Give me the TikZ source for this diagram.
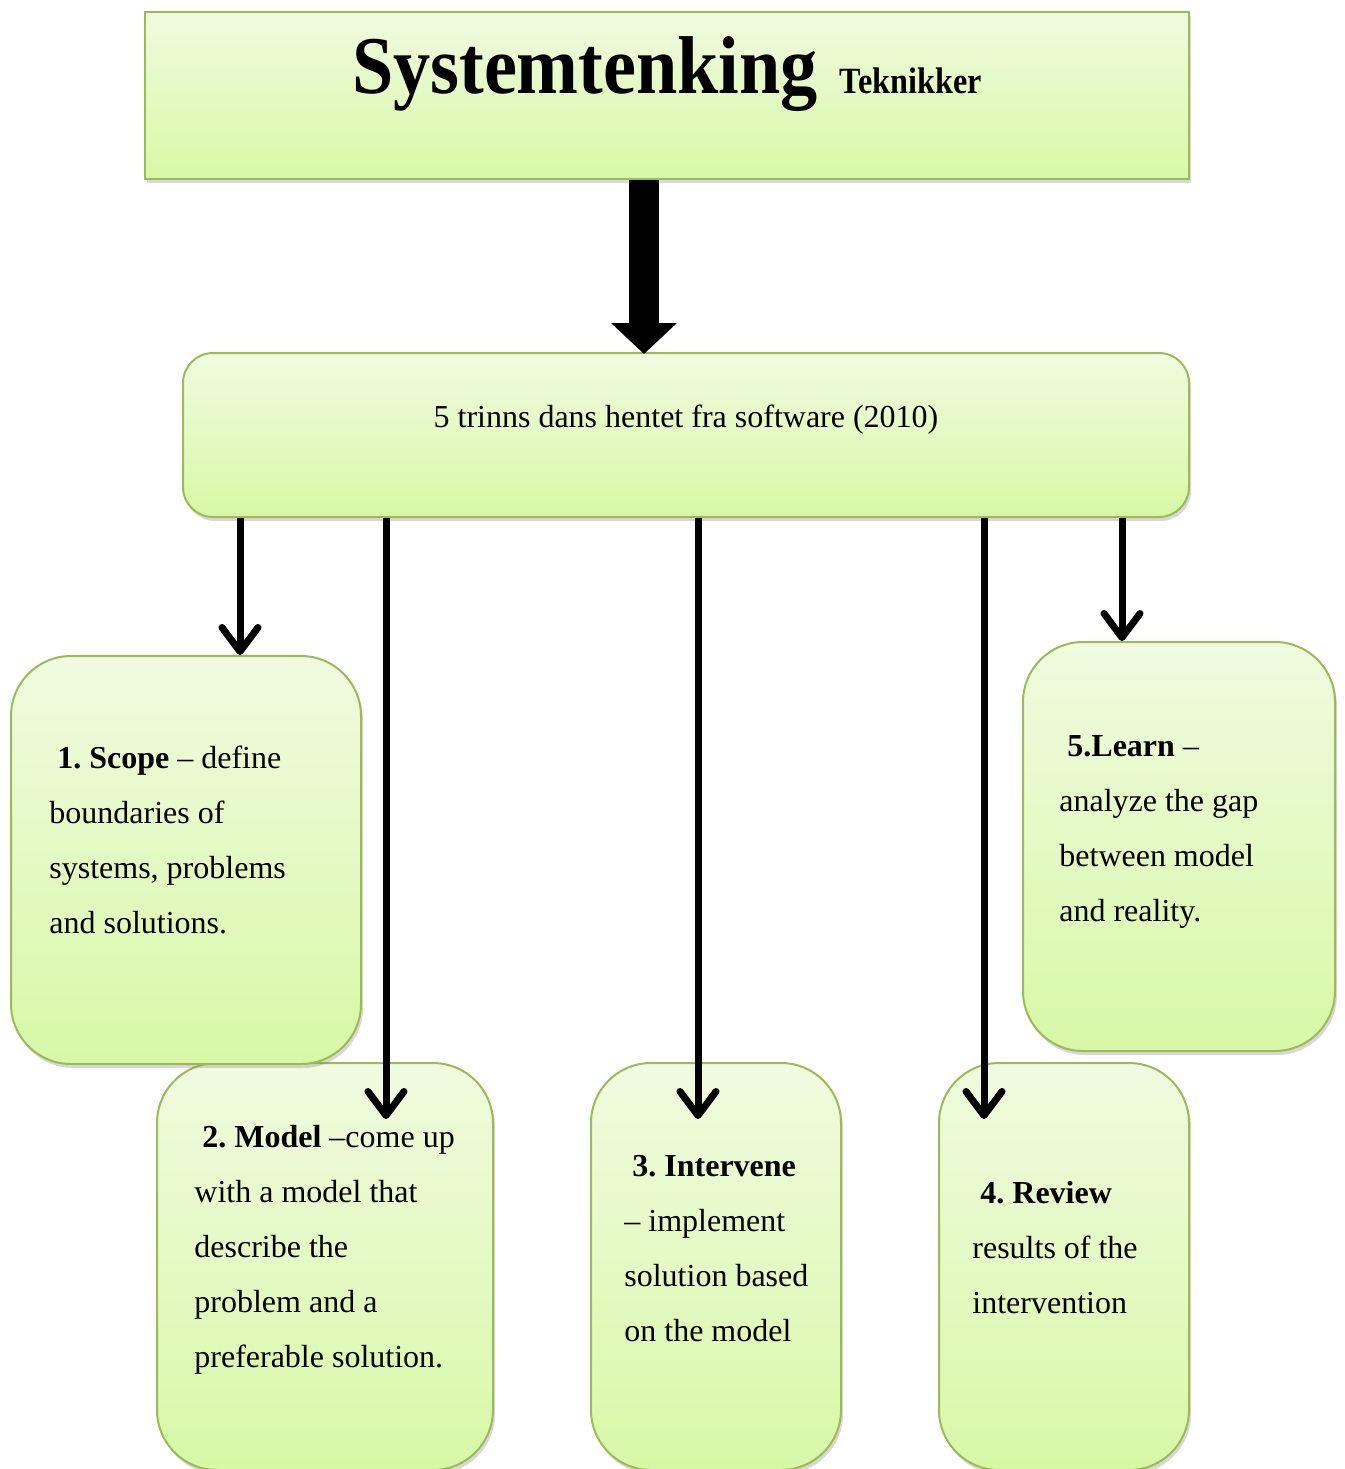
\documentclass[tikz,border=0pt]{standalone}
\usepackage{fontspec}
\setmainfont{Liberation Serif}
\usetikzlibrary{arrows.meta,shadows,calc}

\definecolor{edgegreen}{HTML}{9BBB59}
\definecolor{filltop}{HTML}{F0FBE0}
\definecolor{fillbot}{HTML}{D8F8A6}

\frenchspacing

\begin{document}
\begin{tikzpicture}[x=0.5pt,y=-0.5pt,
  panel/.style={draw=edgegreen, line width=1pt, top color=filltop, bottom color=fillbot,
    inner sep=0pt, drop shadow={opacity=0.3, shadow xshift=1pt, shadow yshift=-2pt}},
  headbox/.style={panel, rectangle},
  leadbox/.style={panel, rounded corners=15pt},
  stepbox/.style={panel, rounded corners=30pt},
  steptext/.style={anchor=base west, inner sep=0pt, font=\fontsize{16}{27.5}\selectfont},
  thinarr/.style={line width=3.5pt, -{Straight Barb[length=12pt, width=18pt, line width=3.5pt, round]}},
  bigarr/.style={line width=15pt, -{Triangle[length=15.5pt, width=32pt]}}
]
\path[use as bounding box, fill=white] (0,0) rectangle (1345,1469);

% header and lead-in boxes
\node[headbox, minimum width=522pt, minimum height=83.5pt] (top) at (667,95.5) {};
\node[leadbox, minimum width=503pt, minimum height=82pt] (b0) at (686,435) {};

% the five steps
\node[stepbox, minimum width=168pt, minimum height=203.5pt] (b2) at (325,1266.5) {};
\node[stepbox, minimum width=175pt, minimum height=204pt] (b1) at (186,860) {};
\node[stepbox, minimum width=125pt, minimum height=203.5pt] (b3) at (716,1266.5) {};
\node[stepbox, minimum width=125pt, minimum height=203.5pt] (b4) at (1064,1266.5) {};
\node[stepbox, minimum width=156pt, minimum height=204.5pt] (b5) at (1179,846.5) {};

% texts
\node[anchor=base, inner sep=0pt] (title) at (667,93)
  {\scalebox{0.905}[1]{\fontsize{41}{41}\selectfont\bfseries Systemtenking}\hspace{11pt}%
   \scalebox{0.87}[1]{\fontsize{18.5}{18.5}\selectfont\bfseries Teknikker}};
\node[anchor=base, inner sep=0pt, font=\fontsize{16}{20}\selectfont] (lead) at (686,427)
  {5 trinns dans hentet fra software (2010)};

\node[steptext] (t1) at (49,768) {\vtop{%
  \hbox{\ \textbf{1. Scope} -- define}
  \hbox{boundaries of}
  \hbox{systems, problems}
  \hbox{and solutions.}}};
\node[steptext] (t2) at (194,1147) {\vtop{%
  \hbox{\ \textbf{2. Model} --come up}
  \hbox{with a model that}
  \hbox{describe the}
  \hbox{problem and a}
  \hbox{preferable solution.}}};
\node[steptext] (t3) at (624,1176) {\vtop{%
  \hbox{\ \textbf{3. Intervene}}
  \hbox{-- implement}
  \hbox{solution based}
  \hbox{on the model}}};
\node[steptext] (t4) at (972,1203) {\vtop{%
  \hbox{\ \textbf{4. Review}}
  \hbox{results of the}
  \hbox{intervention}}};
\node[steptext] (t5) at (1059,756) {\vtop{%
  \hbox{\ \textbf{5.Learn} --}
  \hbox{analyze the gap}
  \hbox{between model}
  \hbox{and reality.}}};

% arrow end points inside the lower step boxes
\coordinate (e2) at ([yshift=-28.5pt]b2.north);
\coordinate (e3) at ([yshift=-28.5pt]b3.north);
\coordinate (e4) at ([yshift=-28.5pt]b4.north);

% connectors
\draw[bigarr] ([xshift=250pt]top.south west) -- ([xshift=250pt,yshift=-1pt]top.south west |- b0.north);
\draw[thinarr] ([xshift=29pt]b0.south west) -- ([xshift=29pt]b0.south west |- b1.north);
\draw[thinarr] ([xshift=102pt]b0.south west) -- ([xshift=102pt]b0.south west |- e2);
\draw[thinarr] ([xshift=258pt]b0.south west) -- ([xshift=258pt]b0.south west |- e3);
\draw[thinarr] ([xshift=401pt]b0.south west) -- ([xshift=401pt]b0.south west |- e4);
\draw[thinarr] ([xshift=470pt]b0.south west) -- ([xshift=470pt]b0.south west |- b5.north);
\end{tikzpicture}
\end{document}
